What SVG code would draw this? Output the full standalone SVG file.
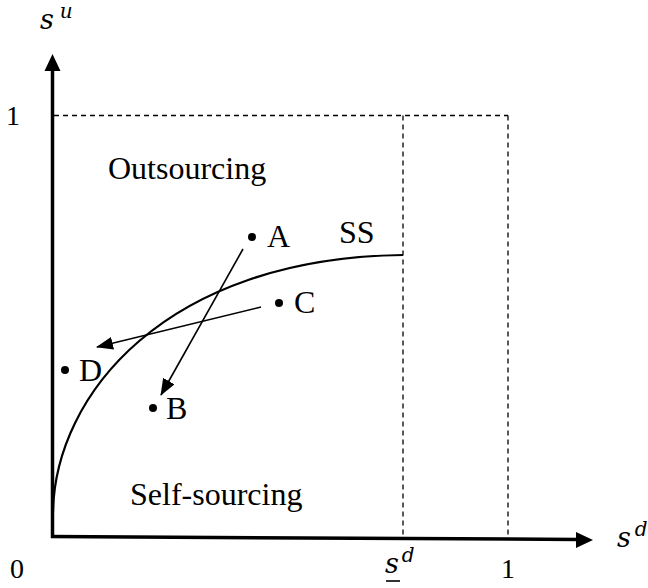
<svg xmlns="http://www.w3.org/2000/svg" width="648" height="588" viewBox="0 0 648 588">
<style>
text{fill:#000}
.t{font-size:32px}
.n{font-size:28px}
.m{font-style:italic}
.dash{stroke:#000;stroke-width:1.3;stroke-dasharray:5,4;fill:none}
.ax{stroke:#000;stroke-width:3.5;fill:none}
.arr{stroke:#000;stroke-width:1.6;fill:none;marker-end:url(#ah)}
</style>
<defs>
<marker id="ah" markerUnits="userSpaceOnUse" markerWidth="18" markerHeight="14" refX="16" refY="6.5" orient="auto">
<path d="M0,0 L17,6.5 L0,13 z" fill="#000"/>
</marker>
</defs>
<rect width="648" height="588" fill="#fff"/>
<g id="grid">
<path class="dash" d="M54,115.5 H508"/>
<path class="dash" d="M403,115.5 V535"/>
<path class="dash" d="M508,115.5 V536"/>
</g>
<g id="axes">
<path class="ax" d="M52.5,538 V68"/>
<path d="M44.5,71 L52.5,54 L60.5,71 z" fill="#000"/>
<path class="ax" d="M51,536.5 L578,539.5"/>
<path d="M576,532 L593,540 L576,548 z" fill="#000"/>
</g>
<g id="curve">
<path d="M53,512 C55,395 165,258 403,255" stroke="#000" stroke-width="2.2" fill="none"/>
</g>
<g id="connectors">
<line class="arr" x1="243" y1="249" x2="161" y2="395"/>
<line class="arr" x1="261" y1="307" x2="97" y2="347"/>
</g>
<g font-family="'Liberation Serif', 'Times New Roman', serif">
<g id="A"><circle cx="252" cy="237" r="4"/><text class="t" x="267" y="247">A</text></g>
<g id="B"><circle cx="153" cy="408" r="4"/><text class="t" x="166" y="419">B</text></g>
<g id="C"><circle cx="279" cy="303" r="4"/><text class="t" x="294" y="313">C</text></g>
<g id="D"><circle cx="65" cy="370" r="4"/><text class="t" x="79" y="381">D</text></g>
<g id="labels">
<text class="t" x="108" y="179">Outsourcing</text>
<text class="t" x="130" y="505">Self-sourcing</text>
<text class="t" x="339" y="243">SS</text>
<text class="n" x="13" y="125" text-anchor="middle">1</text>
<text class="n" x="17" y="578" text-anchor="middle">0</text>
<text class="n" x="508" y="578" text-anchor="middle">1</text>
</g>
</g>
<g id="math" font-family="'DejaVu Serif', serif">
<text class="m" x="40" y="29" font-size="27">s<tspan font-size="20" dx="6" dy="-11">u</tspan></text>
<text class="m" x="617" y="547" font-size="27">s<tspan font-size="20" dx="4" dy="-11">d</tspan></text>
<text class="m" x="385" y="573" font-size="27">s<tspan font-size="20" dx="3" dy="-11">d</tspan></text>
<line x1="386" y1="581" x2="400" y2="581" stroke="#000" stroke-width="1.6"/>
</g>
</svg>
